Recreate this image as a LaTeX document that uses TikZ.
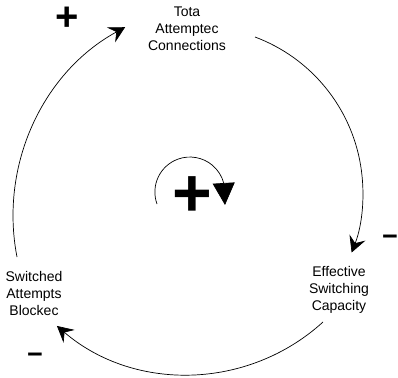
\documentclass[tikz,border=0pt]{standalone}
\usepackage{fontspec}
\setmainfont{Liberation Sans}
\usetikzlibrary{arrows.meta}
\begin{document}
\begin{tikzpicture}[x=1pt,y=1pt,
  lbl/.style={font=\fontsize{14}{17}\selectfont, align=center, inner sep=0pt},
  sgn/.style={font=\bfseries\fontsize{#1}{#1}\selectfont, inner sep=0pt},
  conn/.style={line width=0.7pt, -{Stealth[length=16pt,width=17pt,inset=6pt]}},
]
\useasboundingbox (0,0) rectangle (398,-377);
% variables
\node[lbl] (tac) at (187,-29) {Tota\\Attemptec\\Connections};
\node[lbl] (esc) at (339,-290) {Effective\\Switching\\Capacity};
\node[lbl] (sab) at (34,-293) {Switched\\Attempts\\Blockec};
% link starts
\coordinate (r0) at (255,-37);
\coordinate (b0) at (323,-322);
\coordinate (l0) at (17,-257);
\coordinate (c0) at (157,-204);
\coordinate (c1) at (225,-205);
% links
\draw[conn] (r0) arc[start angle=69.5,end angle=-21.2,radius=166];
\draw[conn] (b0) arc[start angle=-47.7,end angle=-130.6,radius=201];
\draw[conn] (l0) arc[start angle=191,end angle=118.6,radius=215];
% loop symbol
\draw[line width=0.7pt, -{Triangle[length=22pt,width=22pt]}] (c0) arc[start angle=200,end angle=15,radius=35] -- (c1);
\node[sgn=68] (loop) at (192,-197) {+};
% polarities
\node[sgn=40] (p1) at (67,-19) {+};
\node[sgn=27] (p2) at (390,-240) {−};
\node[sgn=27] (p3) at (35,-358) {−};
\end{tikzpicture}
\end{document}
